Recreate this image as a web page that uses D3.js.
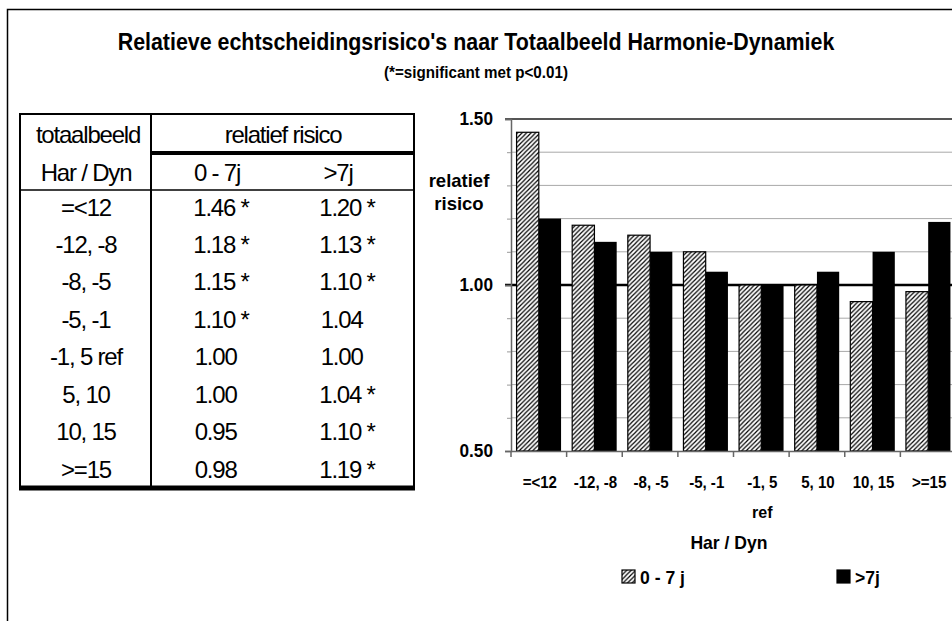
<!DOCTYPE html>
<html>
<head>
<meta charset="utf-8">
<script src="https://cdn.jsdelivr.net/npm/d3@7"></script>
<style>
  body { margin: 0; background: #fff; }
  svg { display: block; }
  text { font-family: "Liberation Sans", Arial, sans-serif; }
</style>
</head>
<body>
<div id="wrapper"></div>
<script>
// data
const categories = ["=<12", "-12, -8", "-8, -5", "-5, -1", "-1, 5", "5, 10", "10, 15", ">=15"]
const catSub = ["", "", "", "", "ref", "", "", ""]
const tableLabels = ["=<12", "-12, -8", "-8, -5", "-5, -1", "-1, 5 ref", "5, 10", "10, 15", ">=15"]
const series = ["0 - 7 j", ">7j"]
const valShort = [1.46, 1.18, 1.15, 1.10, 1.00, 1.00, 0.95, 0.98]
const valLong = [1.20, 1.13, 1.10, 1.04, 1.00, 1.04, 1.10, 1.19]
const sigShort = [true, true, true, true, false, false, false, false]
const sigLong = [true, true, true, false, false, true, true, true]
const yTicks = [0.5, 1.0, 1.5]

const width = 952
const height = 621

const svg = d3.select("#wrapper")
  .append("svg")
  .attr("width", width)
  .attr("height", height)

// squeeze text a bit, the original uses a narrow face
function condense(sel, k) {
  sel.each(function () {
    const w = this.getComputedTextLength()
    d3.select(this).attr("textLength", w * k).attr("lengthAdjust", "spacingAndGlyphs")
  })
}

const defs = svg.append("defs")
defs.append("pattern")
  .attr("id", "hatch")
  .attr("patternUnits", "userSpaceOnUse")
  .attr("width", 4.5)
  .attr("height", 4.5)
  .call(p => p.append("rect").attr("width", 4.5).attr("height", 4.5).attr("fill", "#fff"))
  .append("path")
  .attr("d", "M-1,1 l2,-2 M0,4.5 l4.5,-4.5 M3.5,5.5 l2,-2")
  .attr("stroke", "#000")
  .attr("stroke-width", 1.2)

// frame round the whole figure
svg.append("path")
  .attr("d", `M7.5,${height} V9.5 H${width}`)
  .attr("fill", "none")
  .attr("stroke", "#000")
  .attr("stroke-width", 1.5)

// titles
svg.append("text")
  .attr("x", 476).attr("y", 50)
  .attr("text-anchor", "middle")
  .attr("font-weight", "bold")
  .attr("font-size", 23.5)
  .text("Relatieve echtscheidingsrisico's naar Totaalbeeld Harmonie-Dynamiek")
  .call(condense, 0.91)

svg.append("text")
  .attr("x", 476).attr("y", 78)
  .attr("text-anchor", "middle")
  .attr("font-weight", "bold")
  .attr("font-size", 16.5)
  .text("(*=significant met p<0.01)")
  .call(condense, 0.92)

// ---- table ----
const table = svg.append("g")
const tLeft = 20, tRight = 414, tDiv = 151, tTop = 114, tBottom = 488
const rowY = d3.scaleLinear().domain([0, 7]).range([207, 469])
const col = [86, 221, 347]
const tFont = 24

table.append("rect")
  .attr("x", tLeft).attr("y", tTop)
  .attr("width", tRight - tLeft).attr("height", tBottom - tTop)
  .attr("fill", "none").attr("stroke", "#000").attr("stroke-width", 2)
table.append("line")
  .attr("x1", tDiv).attr("x2", tDiv).attr("y1", tTop).attr("y2", tBottom)
  .attr("stroke", "#000").attr("stroke-width", 2)
table.append("line")
  .attr("x1", tDiv).attr("x2", tRight + 1).attr("y1", 153).attr("y2", 153)
  .attr("stroke", "#000").attr("stroke-width", 4)
table.append("line")
  .attr("x1", tLeft).attr("x2", tRight).attr("y1", 190).attr("y2", 190)
  .attr("stroke", "#000").attr("stroke-width", 1.5)
table.append("line")
  .attr("x1", tLeft - 1).attr("x2", tRight + 1).attr("y1", tBottom).attr("y2", tBottom)
  .attr("stroke", "#000").attr("stroke-width", 5)

const tText = (x, y, s) => table.append("text")
  .attr("x", x).attr("y", y)
  .attr("dy", "0.36em")
  .attr("text-anchor", "middle")
  .attr("font-size", tFont)
  .attr("letter-spacing", -1.2)
  .text(s)

tText(88, 134, "totaalbeeld")
tText(283, 134, "relatief risico")
tText(86, 172, "Har / Dyn")
tText(217, 172, "0 - 7j")
tText(338, 172, ">7j")

const fmt = d3.format(".2f")
tableLabels.forEach((lab, i) => {
  tText(col[0], rowY(i), lab)
  tText(col[1], rowY(i), fmt(valShort[i]) + (sigShort[i] ? " *" : "\u2002"))
  tText(col[2], rowY(i), fmt(valLong[i]) + (sigLong[i] ? " *" : "\u2002"))
})

// ---- chart ----
const chart = svg.append("g")
const x = d3.scaleBand()
  .domain(categories)
  .range([511, 956])
  .padding(0)
const xSub = d3.scaleBand()
  .domain(series)
  .range([0, x.bandwidth()])
  .paddingInner(0)
  .paddingOuter(0.25)
const y = d3.scaleLinear()
  .domain([0.5, 1.5])
  .range([451, 119])

const gridVals = d3.range(6, 15).map(d => d / 10).filter(d => d !== 1)
chart.append("g")
  .selectAll("line")
  .data(gridVals)
  .join("line")
  .attr("x1", 511).attr("x2", 956)
  .attr("y1", d => y(d)).attr("y2", d => y(d))
  .attr("stroke", "#a8a8a8").attr("stroke-width", 1)

chart.append("line")
  .attr("x1", 505).attr("x2", 956)
  .attr("y1", y(1)).attr("y2", y(1))
  .attr("stroke", "#000").attr("stroke-width", 2.5)

chart.append("line")
  .attr("x1", 505).attr("x2", 956)
  .attr("y1", y(1.5)).attr("y2", y(1.5))
  .attr("stroke", "#555").attr("stroke-width", 2)

const groups = chart.append("g")
  .selectAll("g")
  .data(categories)
  .join("g")
  .attr("transform", d => `translate(${x(d)},0)`)

groups.append("rect")
  .attr("x", xSub(series[0]))
  .attr("y", (d, i) => y(valShort[i]))
  .attr("width", xSub.bandwidth())
  .attr("height", (d, i) => y(0.5) - y(valShort[i]))
  .attr("fill", "url(#hatch)")
  .attr("stroke", "#000")
  .attr("stroke-width", 1.2)

groups.append("rect")
  .attr("x", xSub(series[1]))
  .attr("y", (d, i) => y(valLong[i]))
  .attr("width", xSub.bandwidth())
  .attr("height", (d, i) => y(0.5) - y(valLong[i]))
  .attr("fill", "#000")

// y axis
const yAxis = chart.append("g")
  .attr("transform", "translate(511,0)")
  .call(d3.axisLeft(y).tickValues(yTicks).tickFormat(d3.format(".2f")).tickSize(6).tickPadding(12))
yAxis.select(".domain").attr("stroke", "#666").attr("stroke-width", 1.5)
yAxis.selectAll(".tick line").attr("stroke", "#666").attr("stroke-width", 1.5)
yAxis.selectAll("text")
  .attr("font-size", 18.5).attr("font-weight", "bold").attr("fill", "#000")
  .attr("font-family", "'Liberation Sans', Arial, sans-serif")
  .call(condense, 0.93)

chart.append("g")
  .attr("transform", "translate(511,0)")
  .call(d3.axisLeft(y).tickValues(gridVals).tickFormat("").tickSize(4))
  .call(g => g.select(".domain").remove())
  .selectAll(".tick line").attr("stroke", "#999")

// x axis
const xAxis = chart.append("g")
  .attr("transform", `translate(0,${y(0.5)})`)
  .call(d3.axisBottom(x).tickSize(0).tickPadding(26))
xAxis.select(".domain").attr("stroke", "#666").attr("stroke-width", 1.5)
xAxis.selectAll("text")
  .attr("font-size", 16).attr("font-weight", "bold").attr("fill", "#000")
  .attr("font-family", "'Liberation Sans', Arial, sans-serif")
  .attr("dx", 1)
  .call(condense, 0.94)
xAxis.selectAll(".tick")
  .filter((d, i) => catSub[i])
  .append("text")
  .attr("y", 67).attr("dx", 1)
  .attr("text-anchor", "middle")
  .attr("font-size", 16).attr("font-weight", "bold").attr("fill", "#000")
  .text((d) => catSub[categories.indexOf(d)])

chart.append("g")
  .selectAll("line")
  .data(categories.map(c => x(c)).concat([x.range()[1]]))
  .join("line")
  .attr("x1", d => d).attr("x2", d => d)
  .attr("y1", y(0.5)).attr("y2", y(0.5) + 6)
  .attr("stroke", "#666").attr("stroke-width", 1.5)

// axis titles
const yTitle = chart.append("text")
  .attr("x", 459).attr("y", 187)
  .attr("text-anchor", "middle")
  .attr("font-size", 18.5).attr("font-weight", "bold")
yTitle.append("tspan").attr("x", 459).text("relatief")
yTitle.append("tspan").attr("x", 459).attr("dy", 23).text("risico")

chart.append("text")
  .attr("x", 729).attr("y", 549)
  .attr("text-anchor", "middle")
  .attr("font-size", 18.5).attr("font-weight", "bold")
  .text("Har / Dyn")
  .call(condense, 0.95)

// legend
const legend = chart.append("g")
const legX = [622, 837]
series.forEach((s, i) => {
  legend.append("rect")
    .attr("x", legX[i]).attr("y", 570)
    .attr("width", 13).attr("height", 13)
    .attr("fill", i === 0 ? "url(#hatch)" : "#000")
    .attr("stroke", "#000").attr("stroke-width", 1.2)
  legend.append("text")
    .attr("x", legX[i] + 18).attr("y", 584)
    .attr("font-size", 18.5).attr("font-weight", "bold")
    .text(s)
    .call(condense, 0.95)
})
</script>
</body>
</html>
